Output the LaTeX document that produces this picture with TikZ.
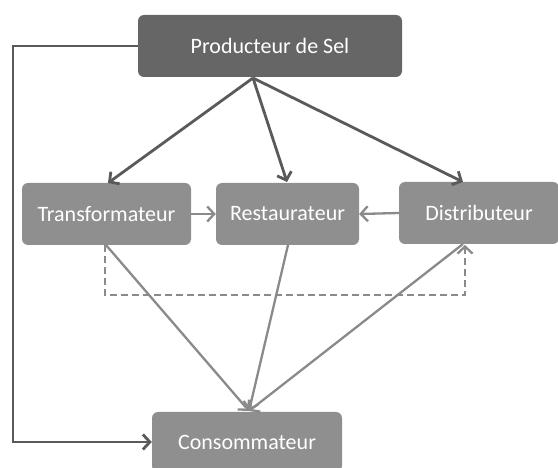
\documentclass[tikz,border=0pt]{standalone}
\usepackage{fontspec}
\setmainfont{Carlito}
\usetikzlibrary{arrows.meta}
\definecolor{darkbox}{HTML}{666666}
\definecolor{lightbox}{HTML}{8F8F8F}
\definecolor{darkline}{HTML}{5A5A5A}
\definecolor{lightline}{HTML}{8A8A8A}
\tikzstyle{actor}=[rounded corners=6pt, fill=lightbox, text=white, font=\fontsize{22}{26}\selectfont, inner sep=0pt, minimum height=62pt]
\tikzstyle{flow}=[-{Straight Barb[length=7pt,width=15pt]}, line width=2.8pt, darkline]
\tikzstyle{softflow}=[-{Straight Barb[length=7pt,width=15pt]}, line width=2.3pt, lightline]

\begin{document}
\begin{tikzpicture}[x=1pt,y=-1pt]
  \useasboundingbox (0,0) rectangle (558,468);
  % actors
  \node[actor, fill=darkbox, minimum width=264pt] (prod) at (270,46) {Producteur de Sel};
  \node[actor, minimum width=169pt] (trans) at (106.5,214) {Transformateur};
  \node[actor, minimum width=143pt] (resto) at (287.5,214) {Restaurateur};
  \node[actor, minimum width=160pt] (distr) at (479,213) {Distributeur};
  \node[actor, minimum width=190pt, minimum height=60pt] (conso) at (247,442) {Consommateur};
  % supply from the producer
  \coordinate (src) at (253,78);
  \draw[flow] (src) -- (108,183);
  \draw[flow] (src) -- (287,182);
  \draw[flow] (src) -- (463,182);
  \draw[flow] (prod.west) -- (13,46) |- (conso.west);
  % between the middle actors
  \draw[softflow] (trans.east) -- (resto.west);
  \draw[softflow] (distr.west) -- (resto.east);
  \draw[softflow, dashed, dash pattern=on 7pt off 4pt] (105,245) -- (105,295) -- (465,295) -- (465,245);
  % towards the consumer
  \coordinate (dst) at (249,411);
  \draw[softflow] (106,245) -- (dst);
  \draw[softflow] (288,245) -- (dst);
  \draw[softflow] (463,244) -- (dst);
\end{tikzpicture}
\end{document}
